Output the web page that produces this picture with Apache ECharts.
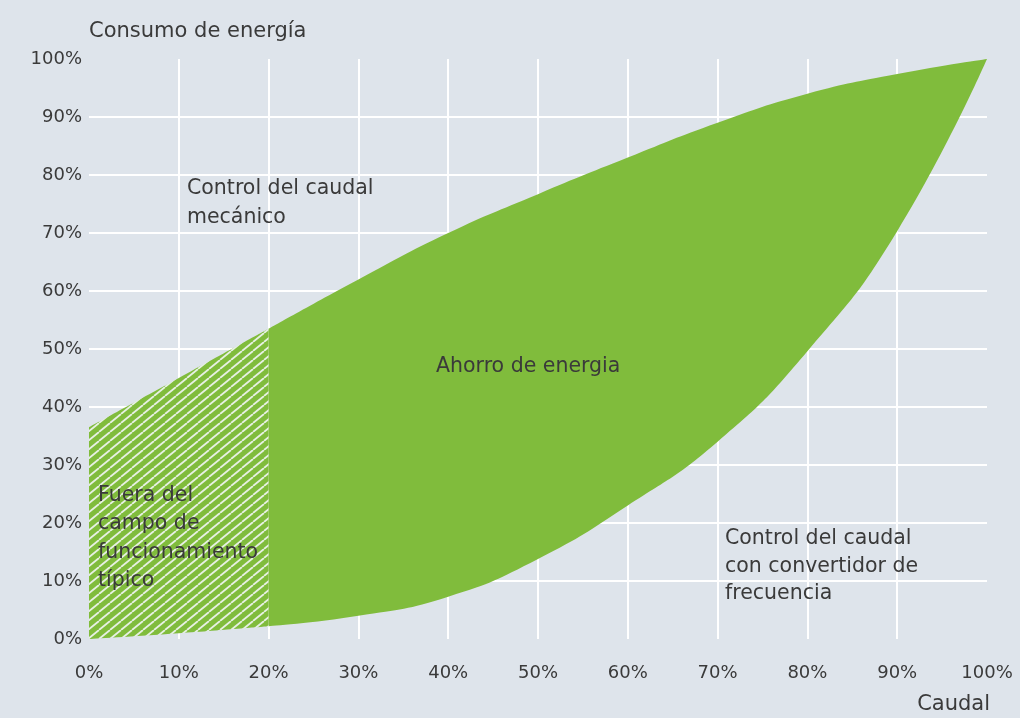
<!DOCTYPE html>
<html>
<head>
<meta charset="utf-8">
<script src="https://cdn.jsdelivr.net/npm/echarts@6/dist/echarts.min.js"></script>
<style>
  html, body { margin: 0; padding: 0; background: #dee4eb; }
  #chart { width: 1020px; height: 718px; }
</style>
</head>
<body>
<div id="chart"></div>
<script>
// ---- data ----
const flowLabels   = ['0%', '10%', '20%', '30%', '40%', '50%', '60%', '70%', '80%', '90%', '100%']; // Caudal
const mechanical   = [36.5, 45, 53.5, 62, 70, 76.7, 83, 89, 94, 97.4, 100]; // Control del caudal mecánico (%)
const converter    = [0, 1, 2.2, 4, 7.3, 13.8, 23, 34, 49.6, 70.3, 100];   // Control con convertidor de frecuencia (%)
const typicalStartIndex = 2;                                               // 20%: end of "fuera del campo" zone
const yTicks       = [0, 10, 20, 30, 40, 50, 60, 70, 80, 90, 100];

const GREEN = '#80bc3c';
const TEXT  = '#3a3a3a';
const FONT  = 'DejaVu Sans';

// hatch pattern
function makeHatch() {
  const w = 11, h = 9;
  const c = document.createElement('canvas');
  c.width = w; c.height = h;
  const ctx = c.getContext('2d');
  ctx.fillStyle = GREEN;
  ctx.fillRect(0, 0, w, h);
  ctx.strokeStyle = 'rgba(236,242,236,0.95)';
  ctx.lineWidth = 1.8;
  for (let k = -1; k <= 1; k++) {
    ctx.beginPath();
    ctx.moveTo(k * w, h);
    ctx.lineTo(k * w + w, 0);
    ctx.stroke();
  }
  return c;
}

// split the band into hatched (<= 20%) and solid (>= 20%) parts (category-aligned, '-' = no value)
const hatchLow  = converter.map((v, i) => i <= typicalStartIndex ? v : '-');
const hatchBand = converter.map((v, i) => i <= typicalStartIndex ? +(mechanical[i] - v).toFixed(2) : '-');
const solidLow  = converter.map((v, i) => i >= typicalStartIndex ? v : '-');
const solidBand = converter.map((v, i) => i >= typicalStartIndex ? +(mechanical[i] - v).toFixed(2) : '-');

const chart = echarts.init(document.getElementById('chart'), null, { renderer: 'canvas' });

const baseLine = { width: 0, opacity: 0 };
const smooth = 0.5;

const option = {
  backgroundColor: '#dee4eb',
  animation: false,
  grid: { left: 89, right: 33, top: 59, bottom: 79, containLabel: false, outerBoundsMode: 'none' },
  xAxis: {
    type: 'category', data: flowLabels, boundaryGap: false,
    name: 'Caudal', nameLocation: 'end', nameGap: 3,
    nameTextStyle: { align: 'right', verticalAlign: 'top', padding: [55, 0, 0, 0], fontSize: 21, fontFamily: FONT, color: TEXT },
    axisLine: { show: false }, axisTick: { show: false },
    axisLabel: { fontSize: 18, fontFamily: FONT, color: TEXT, margin: 25, interval: 0 },
    splitLine: { show: true, interval: 0, showMinLine: false, showMaxLine: false, lineStyle: { color: '#ffffff', width: 2 } }
  },
  yAxis: {
    type: 'value', min: 0, max: 100, interval: 10,
    name: 'Consumo de energía', nameLocation: 'end', nameGap: 27,
    nameTextStyle: { align: 'left', verticalAlign: 'middle', fontSize: 21, fontFamily: FONT, color: TEXT },
    axisLine: { show: false }, axisTick: { show: false },
    axisLabel: {
      formatter: v => (yTicks.indexOf(v) >= 0 ? v + '%' : ''),
      fontSize: 18, fontFamily: FONT, color: TEXT, margin: 7
    },
    splitLine: { show: true, showMinLine: false, showMaxLine: false, lineStyle: { color: '#ffffff', width: 2 } }
  },
  series: [
    { name: 'base-h', type: 'line', stack: 'h', data: hatchLow, smooth: smooth,
      showSymbol: false, lineStyle: baseLine, silent: true, z: 2 },
    { name: 'Fuera del campo de funcionamiento típico', type: 'line', stack: 'h', data: hatchBand, smooth: smooth,
      showSymbol: false, lineStyle: baseLine, silent: true, z: 2,
      areaStyle: { color: { image: makeHatch(), repeat: 'repeat' }, opacity: 1 } },
    { name: 'base-s', type: 'line', stack: 's', data: solidLow, smooth: smooth,
      showSymbol: false, lineStyle: baseLine, silent: true, z: 2 },
    { name: 'Ahorro de energia', type: 'line', stack: 's', data: solidBand, smooth: smooth,
      showSymbol: false, lineStyle: baseLine, silent: true, z: 2,
      areaStyle: { color: GREEN, opacity: 1 } }
  ],
  graphic: [
    { type: 'text', left: 187, top: 174, z: 10,
      style: { text: 'Control del caudal\nmecánico', fontSize: 20.5, fontFamily: FONT, lineHeight: 29, fill: TEXT } },
    { type: 'text', left: 436, top: 352, z: 10,
      style: { text: 'Ahorro de energia', fontSize: 20.5, fontFamily: FONT, lineHeight: 29, fill: TEXT } },
    { type: 'text', left: 98, top: 481, z: 10,
      style: { text: 'Fuera del\ncampo de\nfuncionamiento\ntípico', fontSize: 20.5, fontFamily: FONT, lineHeight: 28.5, fill: TEXT } },
    { type: 'text', left: 725, top: 525, z: 10,
      style: { text: 'Control del caudal\ncon convertidor de\nfrecuencia', fontSize: 20.5, fontFamily: FONT, lineHeight: 27.5, fill: TEXT } }
  ]
};

chart.setOption(option);
</script>
</body>
</html>
